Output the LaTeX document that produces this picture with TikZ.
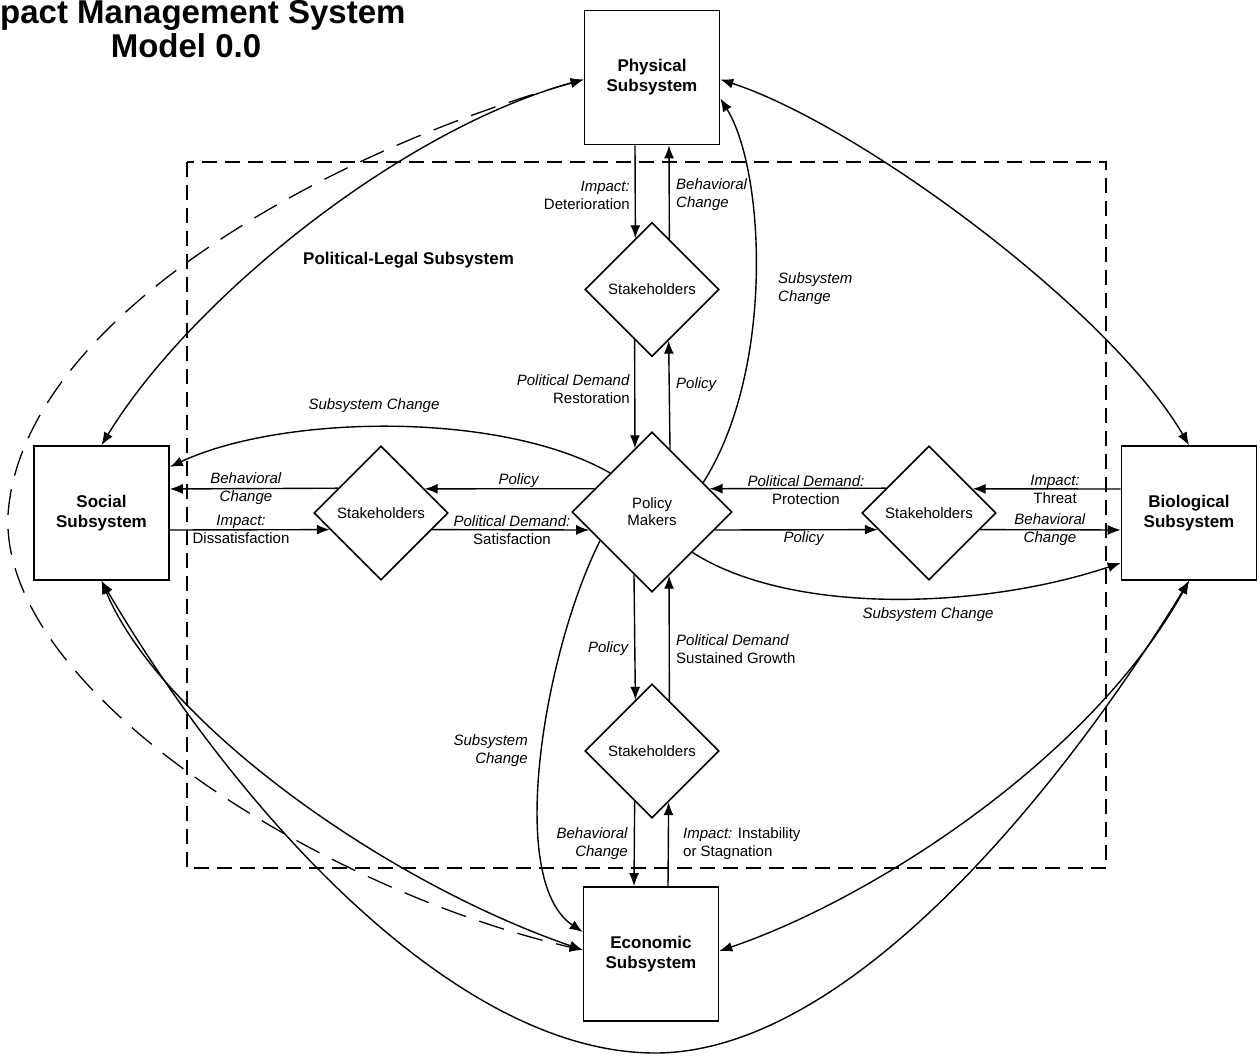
\documentclass[tikz,border=0pt]{standalone}
\usepackage{fontspec}
\setmainfont{Liberation Sans}
\usetikzlibrary{shapes.geometric,arrows.meta}
\begin{document}
\begin{tikzpicture}[x=1pt,y=-1pt,
  sysbox/.style={draw, line width=1.6pt, minimum width=135pt, minimum height=134pt, inner sep=0pt, align=center, font=\fontsize{17}{20}\selectfont\bfseries},
  dia/.style={draw, diamond, aspect=1, line width=1.6pt, inner sep=0pt, minimum width=134pt, minimum height=134pt, align=center, font=\fontsize{15}{17}\selectfont},
  conn/.style={line width=1.4pt, -{Latex[length=13pt,width=10pt]}},
  biconn/.style={line width=1.4pt, {Latex[length=13pt,width=10pt]}-{Latex[length=13pt,width=10pt]}},
  loopline/.style={line width=1.3pt, dash pattern=on 26pt off 14pt, {Latex[length=13pt,width=10pt]}-{Latex[length=13pt,width=10pt]}},
  framebox/.style={line width=1.6pt, dash pattern=on 15pt off 8pt},
  lab/.style={font=\fontsize{15}{18}\selectfont, inner sep=0pt},
  titletext/.style={font=\fontsize{33}{40}\selectfont\bfseries, inner sep=0pt},
  pltext/.style={font=\fontsize{17}{20}\selectfont\bfseries, inner sep=0pt}]
\useasboundingbox (0,0) rectangle (1260,1056);
\fill[white] (0,0) rectangle (1260,1056);

% title
\node[titletext, anchor=base west] (t1) at (0,24) {pact Management System};
\node[titletext, anchor=base] (t2) at (186,58) {Model 0.0};

% political-legal frame
\draw[framebox] (187,162) rectangle (1106,868);
\node[pltext, anchor=west] (plt) at (303,260) {Political-Legal Subsystem};

% subsystems
\node[sysbox] (phys) at (652,77.5) {Physical\\Subsystem};
\node[sysbox] (soc) at (101.5,513) {Social\\Subsystem};
\node[sysbox] (bio) at (1189,513) {Biological\\Subsystem};
\node[sysbox] (eco) at (651,954) {Economic\\Subsystem};

% stakeholders and policy makers
\node[dia] (st1) at (652,289.5) {Stakeholders};
\node[dia, minimum width=160pt, minimum height=160pt] (pm) at (652,512) {Policy\\Makers};
\node[dia] (stL) at (381,513) {Stakeholders};
\node[dia] (stR) at (929,513) {Stakeholders};
\node[dia] (st2) at (652,751) {Stakeholders};

% vertical connectors
\draw[conn] ([xshift=-17pt]phys.south) -- (st1.108.8);
\draw[conn] (st1.71.2) -- ([xshift=17pt]phys.south);
\draw[conn] (st1.251.2) -- (pm.105.1);
\draw[conn] (pm.74.9) -- (st1.288.8);
\draw[conn] (pm.254.9) -- (st2.108.8);
\draw[conn] (st2.71.2) -- (pm.285.1);
\draw[conn] (st2.251.2) -- ([xshift=-17pt]eco.north);
\draw[conn] ([xshift=17pt]eco.north) -- (st2.288.8);

% horizontal connectors
\draw[conn] (stL.150.8) -- ([yshift=24pt]soc.east);
\draw[conn] ([yshift=-17pt]soc.east) -- (stL.198.8);
\draw[conn] (pm.158) -- (stL.29.2);
\draw[conn] (stL.-18.8) -- (pm.196.2);
\draw[conn] (stR.150.8) -- (pm.22);
\draw[conn] (pm.-16.2) -- (stR.198.8);
\draw[conn] ([yshift=24pt]bio.west) -- (stR.29.2);
\draw[conn] (stR.-18.8) -- ([yshift=-17pt]bio.west);

% subsystem change curves
\draw[conn] (pm.137.7) .. controls (500,410) and (280,415) .. ([yshift=46pt]soc.east);
\draw[conn] (pm.-45) .. controls (790,615) and (980,610) .. ([yshift=-50pt]bio.west);
\draw[conn] (pm.30) .. controls (775,370) and (765,170) .. ([yshift=-21pt]phys.east);
\draw[conn] (pm.209) .. controls (545,650) and (505,880) .. ([yshift=22pt]eco.west);

% outer connectors
\coordinate (lw) at (8,515);
\coordinate (bt) at (655,1053);
\draw[biconn] (soc.north) .. controls (190,300) and (400,130) .. ([yshift=-2pt]phys.west);
\draw[loopline] ([yshift=-2pt]phys.west) .. controls (300,160) and (20,330) .. (lw) .. controls (0,690) and (320,890) .. ([yshift=4pt]eco.west);
\draw[biconn] (soc.south) .. controls (160,720) and (380,880) .. ([yshift=4pt]eco.west);
\draw[biconn] (soc.south) .. controls (230,800) and (450,1053) .. (bt) .. controls (860,1053) and (1080,760) .. (bio.south);
\draw[biconn] ([yshift=3pt]eco.east) .. controls (870,900) and (1090,760) .. (bio.south);
\draw[biconn] ([yshift=-2pt]phys.east) .. controls (860,125) and (1110,310) .. (bio.north);

% labels
\node[lab, anchor=east, align=right] (l1) at (630,195) {\textit{Impact:}\\Deterioration};
\node[lab, anchor=west, align=left] (l2) at (676,195) {\textit{Behavioral}\\\textit{Change}};
\node[lab, anchor=east, align=right] (l3) at (630,389) {\textit{Political Demand}\\Restoration};
\node[lab, anchor=west] (l4) at (676,385) {\textit{Policy}};
\node[lab, anchor=west, align=left] (l5) at (778,289) {\textit{Subsystem}\\\textit{Change}};
\node[lab] (l6) at (374,406) {\textit{Subsystem Change}};
\node[lab, align=center] (l7) at (246,489) {\textit{Behavioral}\\\textit{Change}};
\node[lab, align=center] (l8) at (241,529) {\textit{Impact:}\\Dissatisfaction};
\node[lab] (l9) at (519,481) {\textit{Policy}};
\node[lab, align=center] (l10) at (512,530) {\textit{Political Demand:}\\Satisfaction};
\node[lab, align=center] (l11) at (806,490) {\textit{Political Demand:}\\Protection};
\node[lab] (l12) at (804,539) {\textit{Policy}};
\node[lab, align=center] (l13) at (1055,489) {\textit{Impact:}\\Threat};
\node[lab, align=center] (l14) at (1050,530) {\textit{Behavioral}\\\textit{Change}};
\node[lab] (l15) at (928,615) {\textit{Subsystem Change}};
\node[lab, anchor=east] (l16) at (629,649) {\textit{Policy}};
\node[lab, anchor=west, align=left] (l17) at (676,649) {\textit{Political Demand}\\Sustained Growth};
\node[lab, anchor=east, align=right] (l18) at (528,751) {\textit{Subsystem}\\\textit{Change}};
\node[lab, anchor=east, align=right] (l19) at (628,844) {\textit{Behavioral}\\\textit{Change}};
\node[lab, anchor=west, align=left] (l20) at (683,844) {\textit{Impact:} Instability\\or Stagnation};
\end{tikzpicture}
\end{document}
